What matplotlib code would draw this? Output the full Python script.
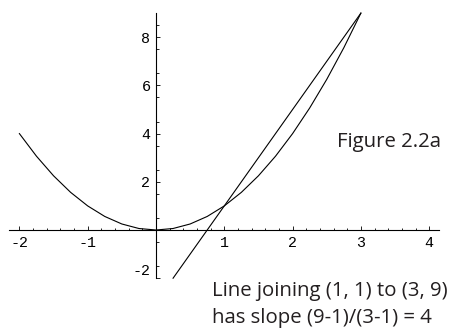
import matplotlib
matplotlib.use("Agg")
import matplotlib.pyplot as plt
from matplotlib.ticker import FixedLocator

plt.rcParams["font.family"] = ["Liberation Mono", "DejaVu Sans Mono"]

# y = x^2
curve_x = [-2.0, -1.75, -1.5, -1.25, -1.0, -0.75, -0.5, -0.25, 0.0, 0.25, 0.5,
           0.75, 1.0, 1.25, 1.5, 1.75, 2.0, 2.25, 2.5, 2.75, 3.0]
curve_y = [4.0, 3.0625, 2.25, 1.5625, 1.0, 0.5625, 0.25, 0.0625, 0.0, 0.0625, 0.25,
           0.5625, 1.0, 1.5625, 2.25, 3.0625, 4.0, 5.0625, 6.25, 7.5625, 9.0]

# secant line through (1,1) and (3,9)
line_x = [0.25, 3.0]
line_y = [-2.0, 9.0]

x_ticks = [-2, -1, 1, 2, 3, 4]
y_ticks = [-2, 2, 4, 6, 8]

W, H = 452, 328
fig = plt.figure(figsize=(W / 100, H / 100), dpi=100)
ax = fig.add_axes([0, 0, 1, 1])
ax.set_facecolor("none")

ax.plot(curve_x, curve_y, color="black", lw=0.8)
ax.plot(line_x, line_y, color="black", lw=0.8)

ax.set_xlim(-2.284, 4.334)
ax.set_ylim(-4.066, 9.544)

for s in ["top", "right"]:
    ax.spines[s].set_visible(False)
ax.spines["left"].set_position(("data", 0))
ax.spines["bottom"].set_position(("data", 0))
ax.spines["left"].set_bounds(-2, 9)
ax.spines["bottom"].set_bounds(-2.15, 4.15)
ax.spines["left"].set_linewidth(0.8)
ax.spines["bottom"].set_linewidth(0.8)

ax.xaxis.set_major_locator(FixedLocator(x_ticks))
ax.yaxis.set_major_locator(FixedLocator(y_ticks))
ax.xaxis.set_minor_locator(FixedLocator([v / 5 for v in range(-10, 21) if v % 5 != 0]))
ax.yaxis.set_minor_locator(FixedLocator([v / 2 for v in range(-4, 18) if v % 2 != 0]))
ax.set_xticklabels([str(t) for t in x_ticks])
ax.set_yticklabels([str(t) for t in y_ticks])

ax.tick_params(which="both", direction="in", width=0.6, color="black")
ax.tick_params(which="major", length=3.0, labelsize=10.8, pad=4)
ax.tick_params(which="minor", length=1.8)
for lab in ax.get_yticklabels():
    if lab.get_text() == "-2":
        lab.set_verticalalignment("bottom")

txt_font = dict(family="Open Sans", fontsize=14.7, color="#231f20", va="baseline", ha="left")
fig.text(337 / W, 1 - 146.7 / H, "Figure 2.2a", **txt_font)
fig.text(212.5 / W, 1 - 295.7 / H, "Line joining (1, 1) to (3, 9)", **txt_font)
fig.text(212.5 / W, 1 - 323.3 / H, "has slope (9-1)/(3-1) = 4", **txt_font)

fig.savefig("out.png", dpi=100)
